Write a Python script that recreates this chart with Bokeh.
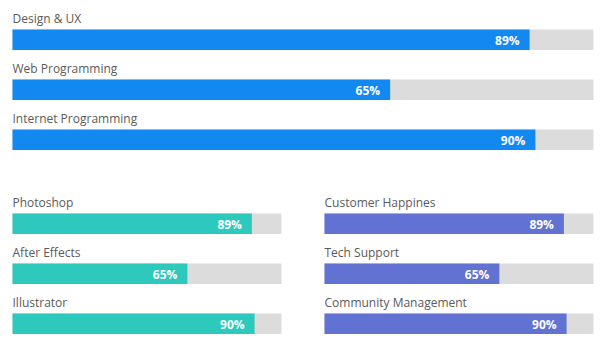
from bokeh.plotting import figure
from bokeh.models import ColumnDataSource, Range1d
from bokeh.core.properties import value
from bokeh.embed import file_html
from bokeh.resources import INLINE

# Data
top_skills = ["Design & UX", "Web Programming", "Internet Programming"]
top_values = [89, 65, 90]
left_skills = ["Photoshop", "After Effects", "Illustrator"]
left_values = [89, 65, 90]
right_skills = ["Customer Happines", "Tech Support", "Community Management"]
right_values = [89, 65, 90]

BLUE = "#1189f0"
TEAL = "#2ec9bd"
PURPLE = "#6272d2"
TRACK = "#dcdcdc"
LABEL = "#5a5a5a"
FONT_V = value("Open Sans")

W, H = 606, 353
p = figure(width=W, height=H, x_range=Range1d(0, W), y_range=Range1d(H, 0),
           output_backend="svg", toolbar_location=None, min_border=0)
p.axis.visible = False
p.grid.visible = False
p.outline_line_color = None
p.background_fill_color = "white"
p.border_fill_color = "white"

BAR_H = 20.5
ROW = 50

def group(skills, values, x0, x1, top0, color):
    tops = [top0 + i * ROW for i in range(len(skills))]
    ends = [x0 + (x1 - x0) * v / 100 for v in values]
    src = ColumnDataSource(dict(
        top=tops,
        bottom=[t + BAR_H for t in tops],
        mid=[t + BAR_H / 2 + 0.5 for t in tops],
        left=[x0] * len(skills),
        right=[x1] * len(skills),
        end=ends,
        tx=[e - 10 for e in ends],
        ly=[t - 11 for t in tops],
        name=skills,
        pct=[f"{v}%" for v in values],
    ))
    p.quad(left="left", right="right", top="top", bottom="bottom", source=src,
           fill_color=TRACK, line_color=None)
    p.quad(left="left", right="end", top="top", bottom="bottom", source=src,
           fill_color=color, line_color=None)
    p.text(x="left", y="ly", text="name", source=src, text_font=FONT_V,
           text_font_size="12px", text_color=LABEL, text_baseline="middle",
           text_align="left")
    p.text(x="tx", y="mid", text="pct", source=src, text_font=FONT_V,
           text_font_size="12px", text_font_style="bold", text_color="white",
           text_baseline="middle", text_align="right")

group(top_skills, top_values, 12, 593, 29, BLUE)
group(left_skills, left_values, 12, 281, 213, TEAL)
group(right_skills, right_values, 324, 593, 213, PURPLE)

open("out.html", "w").write(file_html(p, INLINE))
